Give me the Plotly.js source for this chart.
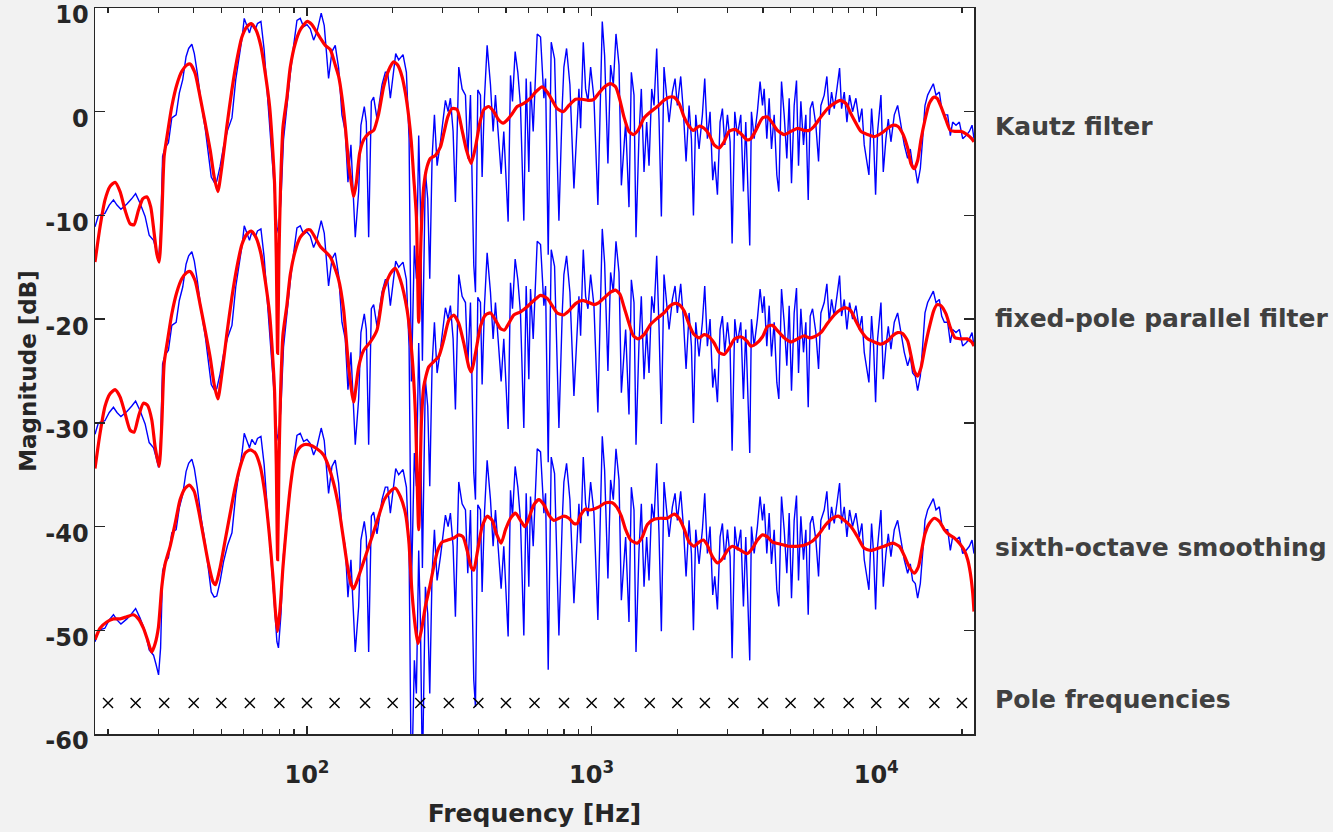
<!DOCTYPE html>
<html><head><meta charset="utf-8">
<script src="https://cdn.plot.ly/plotly-3.0.1.min.js"></script>
<style>html,body{margin:0;padding:0;background:#f2f2f2;}#chart{width:1333px;height:832px;}</style>
</head><body><div id="chart"></div>
<script>
// measured response (relative dB), same curve shown in all three panels
const blueFreq = [18.0,18.5,19.5,20.2,20.9,21.5,22.2,23.3,24.2,25.0,25.9,27.0,27.9,28.9,29.5,30.1,30.6,31.1,31.7,32.6,33.5,34.7,35.6,36.6,37.6,38.4,39.4,40.2,41.2,42.5,43.9,45.1,46.1,47.2,48.2,49.5,50.9,52.6,54.5,56.2,57.8,59.2,60.2,61.5,62.8,64.0,65.8,67.0,68.9,70.7,72.7,74.7,76.7,78.4,79.4,81.0,82.7,85.0,87.4,89.7,92.2,94.7,97.3,100.0,102.7,
105.5,108.4,112.2,115.0,119.1,122.4,125.7,129.2,132.7,136.3,139.3,142.7,147.8,151.9,154.7,159.0,161.6,164.7,168.3,171.5,176.2,183.5,188.5,192.1,196.3,200.6,205.0,210.0,217.5,223.5,228.4,232.7,238.4,242.3,246.9,250.3,254.4,260.6,265.6,270.0,275.1,280.4,286.5,294.4,300.8,306.5,313.2,319.1,326.1,332.3,341.4,350.8,360.4,367.2,375.3,385.5,390.8,398.2,406.9,412.4,420.3,429.5,441.2,450.8,459.4,469.4,481.0,491.4,509.0,518.8,527.2,538.7,550.5,562.4,577.9,589.0,601.8,610.0,623.4,644.0,
661.6,679.7,689.0,703.9,721.3,741.0,767.6,788.5,799.1,816.6,839.0,866.7,885.6,902.5,914.8,934.8,952.6,970.8,992.0,1019,1052,1075,1090,1111,1141,1166,1192,1218,1248,1272,1317,1353,1379,1409,1432,1467,1495,1528,1561,1591,1626,1657,1693,1725,1758,1796,1836,1871,1922,1964,2001,2056,2101,2147,2200,2242,2279,2322,2385,2450,2497,2551,2607,2664,2708,2767,2827,2881,2936,3001,3066,3116,3184,3253,3342,3415,3480,3527,3594,3643,3724,3823,3907,
3984,4038,4126,4205,4285,4379,4474,4547,4647,4748,4851,4944,5038,5148,5246,5332,5434,5552,5658,5767,5861,5973,6136,6270,6390,6564,6707,6835,6966,7118,7274,7433,7554,7719,7888,8060,8257,8483,8715,8904,9075,9272,9424,9629,9787,9947,10110,10387,10585,10816,11023,11262,11571,11888,12213,12546,12891,13170,13421,13715,13976,14282,14555,14832,15156,15571,15868,16215,16658,16975,17346,17820,18209,18556,19063,19587,20123,20672,21237,21701,22050];
const blueDb = [-11.1,-10.0,-9.8,-9.0,-8.5,-9.0,-9.4,-8.9,-8.4,-7.9,-8.8,-10.1,-11.9,-12.4,-13.3,-14.3,-11.7,-4.3,-3.5,-3.0,-0.6,-0.3,1.8,3.1,5.3,6.1,6.5,5.6,3.7,0.8,-1.6,-4.0,-6.3,-6.8,-6.7,-5.3,-3.4,-1.8,-0.6,3.1,5.3,7.2,9.0,8.2,7.6,8.4,7.9,8.5,8.7,6.0,1.1,-3.0,-7.2,-11.1,-11.7,-8.5,-2.7,0.8,3.7,6.3,8.8,9.0,8.2,8.4,8.0,
6.9,7.7,9.5,8.3,3.2,5.8,6.4,4.2,-0.3,-1.9,-6.8,-3.2,-12.1,-7.7,-1.3,0.5,-1.0,-12.1,1.0,1.4,-0.7,2.6,3.8,3.8,1.3,3.8,5.6,5.0,5.5,3.8,-2.6,-26,-12.9,-16.1,-2.3,-9.0,-24,-5.8,-8.4,-16.1,-4.5,-0.3,-5.2,-2.9,-0.7,1.1,0,1.3,-1.9,-8.7,4.3,2.2,1.6,-4.5,1.6,-14.8,-17.4,2.1,1.6,-6.3,1.3,6.4,2.6,-1.9,1.6,-1.9,-6.0,-1.9,-10.6,3.5,1.0,5.8,3.8,0.6,-10.5,3.2,-5.8,2.9,-1.9,7.5,
7.2,1.3,3.2,-13.8,6.7,5.1,-10.5,0.6,4.3,6.1,2.6,-7.4,-2.6,2.2,-1.6,6.7,2.2,1.0,4.3,1.3,-9.0,3.8,8.7,5.4,-5.0,4.5,2.6,7.5,4.5,-7.1,-1.0,-9.2,3.8,1.6,-12.1,-2.3,2.2,-5.8,-1.0,-5.2,2.2,0.6,6.1,-0.7,-10.1,4.3,1.3,-1.0,1.9,3.2,0.6,3.4,0,-4.8,0.6,-2.6,-10.0,-0.3,-3.6,-0.3,3.2,-2.6,0,-6.6,-4.8,-8.0,-1.0,0.3,-3.2,-0.3,-2.9,-12.7,0,-2.3,-0.3,-7.7,-1.0,-6.1,-12.9,0,-2.6,0,2.9,
0.6,2.2,-2.6,1.3,-3.6,-0.3,-6.1,-7.7,2.9,-0.3,-4.5,1.3,-6.9,0.6,3.0,-5.2,1.0,-3.2,-0.3,-8.5,0.3,1.0,-1.3,-4.8,0.6,1.6,3.4,-0.3,1.9,0.3,2.2,4.2,0.3,1.9,-1.0,1.6,0,1.3,-1.0,0.3,-3.2,-4.8,-6.1,0.3,-2.6,-8.0,-1.9,1.6,-5.8,-2.6,-0.7,-2.9,-0.3,0.6,-1.3,-3.2,-4.5,-3.6,-5.2,-5.5,-6.9,-5.5,-2.6,0.6,1.6,2.2,2.7,1.6,1.9,0.3,-0.3,-0.3,-2.3,-1.0,-1.3,-1.0,-2.6,-2.3,-1.9,-1.3,-2.6];

// Kautz filter model (relative dB)
const kautzFreq = [18.0,18.75,19.52,20.33,21.17,22.05,22.96,23.91,24.69,25.58,26.49,27.36,28.26,29.04,29.67,30.24,30.90,31.49,32.35,33.50,34.89,36.33,37.83,38.87,40.47,42.14,43.89,45.70,47.21,48.63,50.23,52.31,54.47,56.72,59.07,61.51,63.71,66.16,68.90,71.36,73.91,75.32,76.96,78.01,78.86,79.71,80.79,82.34,85.05,87.37,90.98,94.74,100.0,104.1,
106.9,111.4,115.9,120.7,125.7,129.2,132.7,136.3,140.1,142.7,145.8,149.0,153.1,158.2,164.7,171.5,178.6,185.9,193.6,201.6,208.3,215.7,221.7,227.8,232.7,237.1,242.3,246.9,251.7,257.2,264.2,271.5,282.7,294.4,302.4,312.4,323.5,336.8,350.8,363.3,377.3,390.8,404.7,418.0,435.3,453.3,472.0,488.9,505.0,525.9,547.6,577.9,610.1,635.3,
670.6,698.3,727.2,757.2,794.9,832.2,878.6,927.3,978.6,1019,1061,1111,1166,1214,1258,1299,1353,1401,1455,1528,1612,1702,1796,1871,1948,2029,2112,2200,2279,2385,2484,2587,2694,2804,2920,3041,3184,3342,3509,3625,3775,
3984,4148,4319,4498,4748,5011,5289,5582,5814,6053,6390,6745,7118,7472,7824,8147,8483,8834,9324,9840,10387,10962,11415,11888,12380,12891,13243,13605,13976,14358,14832,15362,15911,16346,16884,17582,18209,18907,19850,20845,21645,22050];
const kautzDb = [-14.5,-11.1,-8.5,-7.2,-6.8,-7.7,-9.5,-10.8,-10.9,-9.5,-8.4,-8.2,-9.2,-11.7,-13.7,-14.5,-10.1,-4.3,-2.1,0.5,2.6,3.9,4.5,4.6,3.7,1.4,-1.1,-3.7,-6.3,-7.7,-5.3,-1.4,2.1,5.0,7.2,8.2,8.5,7.9,6.3,3.7,0.5,-2.5,-7,-14,-23.3,-14,-7,-1.5,1.4,4.3,6.6,7.9,8.7,8.4,
7.9,7.1,6.4,6.0,4.5,3.4,1.4,-1.4,-5.0,-6.6,-8.2,-6.9,-4.0,-2.7,-2.1,-1.8,-0.2,2.4,4.0,4.8,4.5,3.4,1.8,-0.5,-3.0,-6.3,-10.1,-20.3,-12,-7.2,-5.3,-4.5,-4.2,-3.4,-2.1,-0.5,0.3,0.2,-1.8,-3.7,-5.0,-3.4,-1.1,0.2,0.5,0,-0.8,-1.1,-0.8,-0.2,0.5,0.8,1.3,1.9,
2.4,1.9,1.1,0.3,0,0.6,1.2,1.2,1.1,1.2,1.8,2.4,2.7,2.4,1.1,-0.5,-1.9,-2.2,-1.8,-0.6,0,0.5,1.1,1.4,1.4,0.8,-0.5,-1.4,-1.8,-1.4,-1.6,-2.2,-3.2,-3.5,-2.9,-1.9,-1.7,-2.1,-2.7,-2.6,-1.8,
-0.6,-0.5,-1.1,-1.8,-2.2,-1.9,-1.6,-1.8,-1.8,-1.4,-0.5,0.3,0.8,1.1,0.8,-0.2,-1.1,-1.9,-2.2,-2.4,-2.1,-1.6,-1.3,-1.4,-2.1,-3.5,-5.0,-5.5,-4.7,-2.7,-0.8,0.8,1.4,1.3,0.5,-0.8,-1.8,-1.9,-1.9,-2.2,-2.6,-2.9];

// fixed-pole parallel filter model (relative dB)
const parFreq = [18.0,18.75,19.52,20.33,21.17,22.05,22.96,23.91,24.69,25.58,26.63,27.51,28.49,29.27,30.24,30.90,31.49,32.35,33.50,34.89,36.33,37.83,38.87,40.47,42.14,43.89,45.70,47.21,48.63,50.23,52.31,54.47,56.72,59.07,61.51,63.71,66.16,68.90,71.36,73.91,75.32,76.96,78.01,78.86,79.71,80.79,82.34,85.05,87.37,90.98,94.74,100.0,
102.7,111.4,120.7,129.2,134.5,140.1,145.8,151.9,158.2,167.0,176.2,185.9,196.3,204.4,212.8,224.7,233.9,240.3,246.9,252.3,257.2,267.8,278.8,290.4,302.4,314.9,327.9,341.4,355.5,370.3,378.4,390.8,406.9,423.8,441.2,459.4,478.4,494.2,511.8,533.0,562.4,593.8,626.8,661.6,
698.3,727.2,757.2,794.9,832.2,878.6,927.3,978.6,1019,1061,1111,1166,1214,1258,1299,1353,1401,1455,1528,1612,1702,1796,1871,1948,2029,2112,2200,2279,2385,2484,2587,2694,2804,2920,3041,3184,3342,3509,3625,3775,
3984,4148,4319,4498,4748,5011,5289,5582,5814,6053,6390,6745,7118,7472,7824,8147,8483,8834,9324,9840,10387,10962,11415,11888,12380,12891,13243,13605,13976,14358,14832,15362,15911,16346,16884,17582,18209,18907,19850,20845,21645,22050];
const parDb = [-14.4,-11.0,-8.4,-7.2,-6.8,-7.5,-9.1,-10.7,-10.9,-9.4,-8.1,-8.3,-9.7,-12.3,-14.2,-10.1,-4.3,-2.1,0.5,2.6,3.9,4.5,4.6,3.7,1.4,-1.1,-3.7,-6.3,-7.7,-5.3,-1.4,2.1,5.0,7.2,8.2,8.5,7.9,6.3,3.7,0.5,-2.5,-7,-14,-23.2,-14,-7,-1.5,1.4,4.3,6.6,7.9,8.6,
8.6,7.0,6.0,3.8,0.9,-4.6,-8.0,-4.6,-3.0,-2.2,-1.05,2.8,4.4,4.9,3.8,0.9,-3.5,-9,-20.3,-10,-6.5,-4.6,-4.1,-3.6,-2.0,-0.1,0.4,-0.4,-2.3,-4.6,-5.1,-3.3,-0.7,0.4,0.6,-0.1,-0.9,-1.05,-0.4,0.4,0.7,1.2,1.8,2.3,
2.0,1.3,0.6,0.4,0.8,1.5,1.8,1.6,1.4,1.6,2.1,2.6,2.8,2.4,1.2,-0.4,-1.6,-1.9,-1.5,-0.5,0.1,0.6,1.2,1.5,1.4,0.8,-0.5,-1.4,-1.8,-1.5,-1.7,-2.3,-3.2,-3.4,-2.8,-1.9,-1.7,-2.1,-2.6,-2.4,-1.7,
-0.7,-0.6,-1.1,-1.8,-2.2,-1.9,-1.6,-1.8,-1.7,-1.3,-0.4,0.4,0.9,1.1,0.8,-0.2,-1.1,-1.9,-2.2,-2.4,-2.1,-1.6,-1.3,-1.4,-2.1,-3.5,-5.0,-5.5,-4.7,-2.7,-0.8,0.8,1.4,1.3,0.5,-0.8,-1.8,-1.9,-1.9,-2.2,-2.6,-2.9];

// sixth-octave smoothed response (relative dB)
const smoothFreq = [18.0,18.75,19.79,20.89,22.05,23.27,24.56,25.58,26.63,27.51,28.49,29.27,30.07,30.90,31.74,33.05,34.42,35.84,37.32,38.66,40.15,41.58,43.30,45.09,46.70,47.72,49.56,51.61,53.74,55.96,58.27,60.68,63.19,65.80,68.52,71.36,73.71,75.93,77.59,78.86,80.58,82.34,85.05,87.37,90.25,93.47,97.33,101.4,
108.4,114.4,119.1,124.0,129.2,134.5,138.9,142.7,145.8,151.9,160.3,169.2,178.6,186.9,196.3,204.4,212.8,221.7,227.8,233.9,240.3,245.6,252.3,260.6,269.9,278.8,288.0,298.3,312.4,327.9,341.4,353.6,365.3,377.3,385.5,396.0,412.4,429.5,447.3,463.1,481.0,498.3,518.8,540.3,562.4,582.6,601.8,626.8,652.6,
679.7,707.8,737.1,767.6,799.1,832.2,866.7,890.3,914.8,952.6,982.4,1061,1120,1182,1224,1272,1317,1372,1447,1507,1570,1657,1749,1846,1948,2029,2112,2200,2291,2385,2470,2551,2657,2767,2881,3001,3124,3253,3388,3527,3674,3823,
3984,4148,4319,4620,4944,5218,5582,5973,6304,6653,7023,7353,7719,8147,8599,9075,9579,10110,10671,11415,12048,12546,13065,13605,14053,14438,14832,15362,16000,16658,17346,18063,18807,19587,20400,20957,21413,21821,22050];
const smoothDb = [-10.9,-9.8,-9.2,-8.9,-8.9,-8.7,-8.5,-8.9,-9.8,-10.9,-12.1,-11.3,-9.7,-5.8,-3.6,-1.9,0.3,2.6,3.7,4.0,3.4,1.6,-1.0,-3.6,-5.3,-5.6,-3.9,-1.3,1.3,3.8,5.8,7.1,7.4,7.1,5.8,2.9,-0.7,-4.8,-8.4,-10.1,-7.7,-3.9,0.6,3.8,6.4,7.5,7.9,7.9,
7.5,6.9,5.8,4.2,1.9,-1.3,-3.9,-5.5,-6.0,-4.8,-2.9,-1.0,1.0,2.6,3.4,3.7,2.9,1.3,-1.3,-6.4,-9.7,-11.3,-10.0,-7.7,-5.8,-3.9,-2.3,-1.5,-1.3,-1.1,-0.8,-1.0,-2.3,-3.9,-4.2,-2.6,0,1.0,0.6,-0.7,-1.6,-0.3,0.8,1.3,0.6,0,0.8,2.1,2.6,
2.1,1.1,0.6,0.8,1.0,0.8,0.3,0.3,1.1,1.7,1.6,1.9,2.3,2.3,1.9,1.0,-0.3,-1.3,-1.6,-1.0,0.2,0.7,0.8,0.8,1.2,0.8,-0.2,-1.5,-1.9,-1.5,-1.3,-1.8,-2.9,-3.5,-3.1,-2.3,-1.9,-2.1,-2.4,-2.6,-2.1,-1.3,
-0.8,-1.0,-1.5,-1.7,-1.9,-1.9,-1.8,-1.4,-0.7,0.2,0.8,1.0,0.6,0,-1.0,-2.1,-2.3,-2.1,-1.9,-1.6,-1.9,-2.8,-3.9,-4.5,-3.9,-2.3,-0.7,0.3,0.8,0.5,-0.3,-0.8,-1.1,-1.6,-2.3,-3.2,-4.5,-6.4,-8.2];

const poleFreq = [20,25,31.5,40,50,63,80,100,125,160,200,250,315,400,500,630,800,1000,1250,1600,2000,2500,3150,4000,5000,6300,8000,10000,12500,16000,20000];
const poleLevel = -57;
const panelOffsets = [0, -20, -40];
const panelLabels = ['Kautz filter', 'fixed-pole parallel filter', 'sixth-octave smoothing', 'Pole frequencies'];
const labelLevels = [-1.4, -19.9, -42.0, -56.7];
const yTickVals = [-60, -50, -40, -30, -20, -10, 0, 10];
const yTickText = ['-60', '-50', '-40', '-30', '-20', '-10', '0', '10'];
const xTickVals = [100, 1000, 10000];
const xTickText = ['10<sup>2</sup>', '10<sup>3</sup>', '10<sup>4</sup>'];
const xMinorVals = [20,30,40,50,60,70,80,90,200,300,400,500,600,700,800,900,2000,3000,4000,5000,6000,7000,8000,9000,20000];

const models = [[kautzFreq, kautzDb], [parFreq, parDb], [smoothFreq, smoothDb]];
const traces = [];
models.forEach((m, i) => {
  traces.push({x: blueFreq, y: blueDb.map(v => v + panelOffsets[i]), type: 'scatter', mode: 'lines',
    line: {color: '#0000ff', width: 1.4}, hoverinfo: 'skip', showlegend: false});
  traces.push({x: m[0], y: m[1].map(v => v + panelOffsets[i]), type: 'scatter', mode: 'lines',
    line: {color: '#ff0000', width: 3.2, shape: 'spline', smoothing: 0.6}, hoverinfo: 'skip', showlegend: false});
});
traces.push({x: poleFreq, y: poleFreq.map(() => poleLevel), type: 'scatter', mode: 'markers',
  marker: {symbol: 'x-thin', size: 10, color: '#000000', line: {width: 1.4, color: '#000000'}}, showlegend: false});

const FONT = '"DejaVu Sans", "Open Sans", sans-serif';
const tickFont = {family: FONT, size: 24, color: '#262626', weight: 700};
const axisCommon = {showgrid: false, zeroline: false, showline: true, linecolor: '#262626', linewidth: 1.5,
  mirror: 'ticks', ticks: 'inside', tickcolor: '#262626', tickwidth: 1.3, tickfont: tickFont, ticklabeloverflow: 'allow'};

const layout = {
  width: 1333, height: 832,
  margin: {l: 95, r: 359, t: 8, b: 98},
  paper_bgcolor: '#f2f2f2', plot_bgcolor: '#ffffff',
  xaxis: Object.assign({}, axisCommon, {
    type: 'log', range: [Math.log10(18), Math.log10(22050)],
    tickmode: 'array', tickvals: xTickVals, ticktext: xTickText, ticklen: 8, ticklabelstandoff: 19,
    minor: {tickmode: 'array', tickvals: xMinorVals, ticks: 'inside', ticklen: 5, tickcolor: '#262626', tickwidth: 1.2, showgrid: false},
    title: {text: 'Frequency [Hz]', standoff: 16, font: {family: FONT, size: 25, color: '#262626', weight: 700}}
  }),
  yaxis: Object.assign({}, axisCommon, {
    range: [-60, 10], tickmode: 'array', tickvals: yTickVals, ticktext: yTickText, ticklen: 10,
    ticklabelstandoff: 0, ticklabelshift: 7,
    title: {text: 'Magnitude [dB]', standoff: 2, font: {family: FONT, size: 23, color: '#262626', weight: 700}}
  }),
  annotations: panelLabels.map((t, i) => ({
    text: t, xref: 'paper', x: 1, xanchor: 'left', xshift: 19, yref: 'y', y: labelLevels[i], yanchor: 'middle',
    showarrow: false, font: {family: FONT, size: 25, color: '#404040', weight: 700}
  }))
};

Plotly.newPlot('chart', traces, layout, {displayModeBar: false, staticPlot: true});
</script>
</body></html>
